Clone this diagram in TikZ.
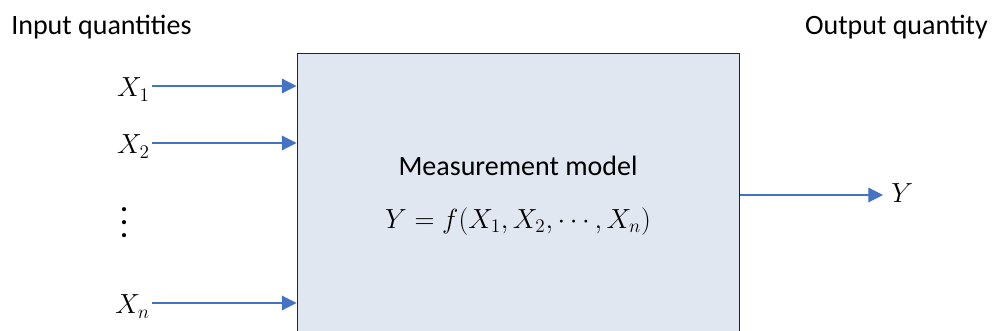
\documentclass[tikz,border=0pt]{standalone}
\usepackage{fontspec}
\setmainfont{Carlito}
\usepackage{tikz}
\usetikzlibrary{arrows.meta, positioning, calc}

\definecolor{arrowblue}{HTML}{4472C4}
\definecolor{modelfill}{HTML}{E1E7F1}
\newcommand{\tallvdots}{\vbox{\baselineskip=9.75pt \lineskiplimit=0pt \hbox{\textbf{.}}\hbox{\textbf{.}}\hbox{\textbf{.}}}}

\begin{document}
\begin{tikzpicture}[
  x=0.75pt, y=-0.75pt,
  model/.style={rectangle, draw=black!85, fill=modelfill, line width=0.75pt, minimum width=331.5pt, minimum height=212.25pt, align=center, inner sep=0pt, font=\fontsize{21}{25}\selectfont},
  lbl/.style={inner sep=0pt, font=\fontsize{21}{25}\selectfont},
  arrow/.style={-{Triangle[length=11pt, width=11pt]}, line width=0.9pt, draw=arrowblue}
]
\useasboundingbox (0,0) rectangle (992,331);
\clip (0,0) rectangle (992,331);

% Nodes
\node[model] (model) at (518,195.5) {Measurement model\\[15pt] $Y = f(X_1, X_2, \cdots, X_n)$};
\node[lbl, anchor=base west] (intitle) at (11,35) {Input quantities};
\node[lbl, anchor=base east] (outtitle) at (988,35) {Output quantity};

\coordinate (in1) at (152,86);
\coordinate (in2) at (152,143);
\coordinate (inn) at (152,303);
\coordinate (out) at (883,195);

\node[lbl, anchor=base east] (x1) at (150,97) {$X_1$};
\node[lbl, anchor=base east] (x2) at (150,154) {$X_2$};
\node[lbl] (dots) at (124,223) {\tallvdots};
\node[lbl, anchor=base east] (xn) at (150,314) {$X_n$};
\node[lbl, anchor=base west] (y) at (891,203) {$Y$};

% Arrows
\draw[arrow] (in1) -- (in1 -| model.west);
\draw[arrow] (in2) -- (in2 -| model.west);
\draw[arrow] (inn) -- (inn -| model.west);
\draw[arrow] (model.east |- out) -- (out);

\end{tikzpicture}
\end{document}
